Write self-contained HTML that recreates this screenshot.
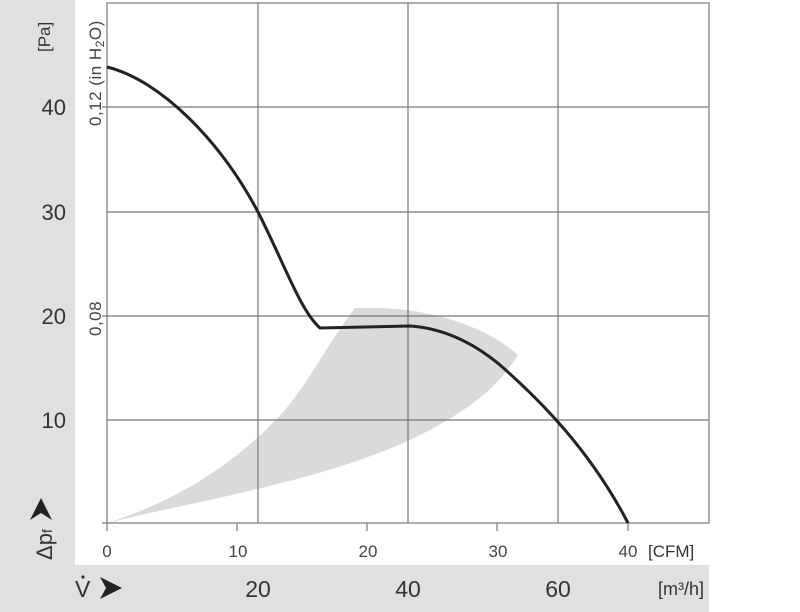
<!DOCTYPE html>
<html><head><style>
html,body{margin:0;padding:0;background:#fff;}
svg{display:block;font-family:"Liberation Sans",sans-serif;}
</style></head><body>
<svg width="800" height="612" viewBox="0 0 800 612">
<rect x="0" y="0" width="75" height="612" fill="#e0e0e0"/>
<rect x="0" y="565" width="709" height="47" fill="#e0e0e0"/>
<path d="M107,523 C200,500 330,480 420,435 C470,410 500,385 518,355 C490,330 440,310 380,308 L355,308 C330,340 310,380 285,410 C240,460 180,500 107,523 Z" fill="#dadada"/>
<g stroke="#777" stroke-width="1.2" fill="none">
<rect x="107" y="3" width="602" height="520"/>
<line x1="258" y1="3" x2="258" y2="523"/>
<line x1="408" y1="3" x2="408" y2="523"/>
<line x1="558" y1="3" x2="558" y2="523"/>
<line x1="102" y1="107" x2="709" y2="107"/>
<line x1="107" y1="212" x2="709" y2="212"/>
<line x1="102" y1="316" x2="709" y2="316"/>
<line x1="107" y1="420" x2="709" y2="420"/>
<line x1="102" y1="523" x2="107" y2="523"/>
<line x1="107" y1="523" x2="107" y2="531"/>
<line x1="237" y1="523" x2="237" y2="531"/>
<line x1="367" y1="523" x2="367" y2="531"/>
<line x1="497" y1="523" x2="497" y2="531"/>
<line x1="628" y1="523" x2="628" y2="531"/>
</g>
<path d="M107,67 C160,80 220,140 258,212 C285,265 300,310 320,328 L410,326 C440,328 470,340 500,365 C540,400 590,450 628,523" fill="none" stroke="#222" stroke-width="3"/>
<g font-size="22" fill="#333" text-anchor="end">
<text x="66" y="115">40</text>
<text x="66" y="220">30</text>
<text x="66" y="324">20</text>
<text x="66" y="428">10</text>
</g>
<text transform="translate(50,52) rotate(-90)" font-size="17" fill="#333">[Pa]</text>
<text transform="translate(101,126) rotate(-90)" font-size="17" fill="#444" letter-spacing="0.5">0,12  (in H<tspan font-size="12" dy="3">2</tspan><tspan dy="-3">O)</tspan></text>
<text transform="translate(101,336) rotate(-90)" font-size="17" fill="#444" letter-spacing="0.5">0,08</text>
<text transform="translate(52,560) rotate(-90)" font-size="22" fill="#333">Δp<tspan font-size="14">f</tspan></text>
<path d="M30,520 L41,498 L52,520 L41,513 Z" fill="#222"/>
<g font-size="17" fill="#444" text-anchor="middle">
<text x="107" y="557">0</text>
<text x="238" y="557">10</text>
<text x="368" y="557">20</text>
<text x="498" y="557">30</text>
<text x="628" y="557">40</text>
</g>
<text x="648" y="557" font-size="17" fill="#333">[CFM]</text>
<text x="75" y="597" font-size="23" fill="#333">V</text>
<circle cx="83" cy="577" r="1.6" fill="#333"/>
<path d="M100,577 L122,588 L100,599 L106,588 Z" fill="#222"/>
<g font-size="23" fill="#333" text-anchor="middle">
<text x="258" y="597">20</text>
<text x="408" y="597">40</text>
<text x="558" y="597">60</text>
</g>
<text x="704" y="595" font-size="18" fill="#333" text-anchor="end">[m³/h]</text>
</svg>
</body></html>
